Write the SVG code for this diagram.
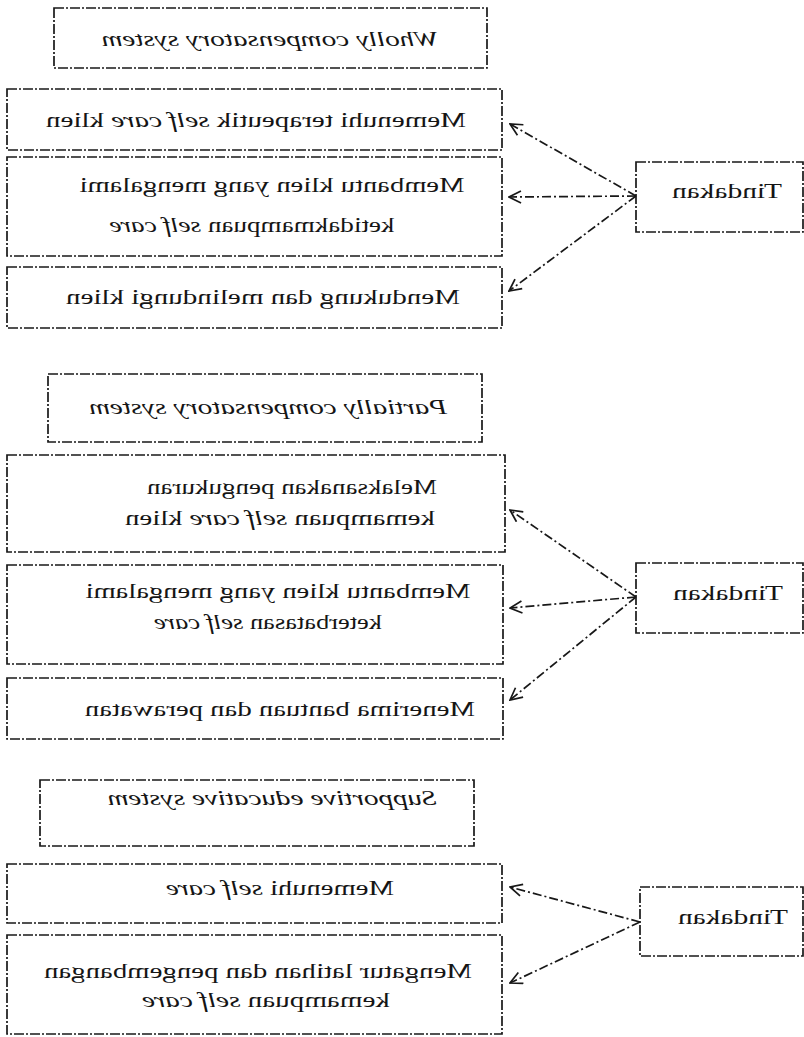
<svg xmlns="http://www.w3.org/2000/svg" width="804" height="1037" viewBox="0 0 804 1037">
  <style>
    .box { fill: none; stroke: #181818; stroke-width: 1.7; stroke-dasharray: 10 2 2 2; }
    .link { fill: none; stroke: #181818; stroke-width: 1.7; stroke-dasharray: 9 3 2 3; }
    .t { font-family: "Liberation Serif", "Times New Roman", serif; font-size: 20px; fill: #151515; text-anchor: middle; }
    .i { font-style: italic; }
  </style>
  <defs>
    <marker id="head" viewBox="0 0 14 14" refX="13" refY="7" markerWidth="14" markerHeight="14" markerUnits="userSpaceOnUse" orient="auto">
      <path d="M1,1 L13,7 L1,13" fill="none" stroke="#181818" stroke-width="1.7"/>
    </marker>
  </defs>
  <rect width="804" height="1037" fill="#ffffff"/>

  <!-- Connectors; all labels are drawn mirrored (scale(-1,1)) and stretched -->
  <g id="connectors">
    <line class="link" x1="636" y1="196" x2="510" y2="124" marker-end="url(#head)"/>
    <line class="link" x1="636" y1="196" x2="509" y2="197" marker-end="url(#head)"/>
    <line class="link" x1="636" y1="196" x2="509" y2="291" marker-end="url(#head)"/>

    <line class="link" x1="636" y1="597" x2="510" y2="510" marker-end="url(#head)"/>
    <line class="link" x1="636" y1="597" x2="510" y2="608" marker-end="url(#head)"/>
    <line class="link" x1="636" y1="597" x2="510" y2="700" marker-end="url(#head)"/>

    <line class="link" x1="640" y1="922" x2="510" y2="887" marker-end="url(#head)"/>
    <line class="link" x1="640" y1="922" x2="510" y2="983" marker-end="url(#head)"/>
  </g>

  <!-- Section 1: wholly compensatory -->
  <g id="wholly-title">
    <rect class="box" x="54" y="8" width="433" height="60"/>
    <text class="t i" transform="scale(-1,1)" x="-270" y="46" textLength="337" lengthAdjust="spacingAndGlyphs">Wholly compensatory system</text>
  </g>
  <g id="wholly-1">
    <rect class="box" x="7" y="89" width="495" height="61"/>
    <text class="t" transform="scale(-1,1)" x="-256" y="127" textLength="420" lengthAdjust="spacingAndGlyphs">Memenuhi terapeutik <tspan class="i">self care</tspan> klien</text>
  </g>
  <g id="wholly-2">
    <rect class="box" x="7" y="157" width="495" height="99"/>
    <text class="t" transform="scale(-1,1)" x="-272" y="192" textLength="385" lengthAdjust="spacingAndGlyphs">Membantu klien yang mengalami</text>
    <text class="t" transform="scale(-1,1)" x="-252" y="232" textLength="285" lengthAdjust="spacingAndGlyphs">ketidakmampuan <tspan class="i">self care</tspan></text>
  </g>
  <g id="wholly-3">
    <rect class="box" x="7" y="267" width="495" height="61"/>
    <text class="t" transform="scale(-1,1)" x="-263" y="304" textLength="394" lengthAdjust="spacingAndGlyphs">Mendukung dan melindungi klien</text>
  </g>
  <g id="tindakan-1">
    <rect class="box" x="636" y="162" width="167" height="70"/>
    <text class="t" transform="scale(-1,1)" x="-727" y="198" textLength="110" lengthAdjust="spacingAndGlyphs">Tindakan</text>
  </g>

  <!-- Section 2: partially compensatory -->
  <g id="partially-title">
    <rect class="box" x="48" y="374" width="434" height="68"/>
    <text class="t i" transform="scale(-1,1)" x="-268" y="414" textLength="358" lengthAdjust="spacingAndGlyphs">Partially compensatory system</text>
  </g>
  <g id="partially-1">
    <rect class="box" x="7" y="455" width="498" height="97"/>
    <text class="t" transform="scale(-1,1)" x="-292" y="494" textLength="290" lengthAdjust="spacingAndGlyphs">Melaksanakan pengukuran</text>
    <text class="t" transform="scale(-1,1)" x="-280" y="525" textLength="310" lengthAdjust="spacingAndGlyphs">kemampuan <tspan class="i">self care</tspan> klien</text>
  </g>
  <g id="partially-2">
    <rect class="box" x="7" y="565" width="496" height="99"/>
    <text class="t" transform="scale(-1,1)" x="-278" y="598" textLength="385" lengthAdjust="spacingAndGlyphs">Membantu klien yang mengalami</text>
    <text class="t" transform="scale(-1,1)" x="-268" y="629" textLength="228" lengthAdjust="spacingAndGlyphs">keterbatasan <tspan class="i">self care</tspan></text>
  </g>
  <g id="partially-3">
    <rect class="box" x="7" y="678" width="496" height="61"/>
    <text class="t" transform="scale(-1,1)" x="-280" y="716" textLength="390" lengthAdjust="spacingAndGlyphs">Menerima bantuan dan perawatan</text>
  </g>
  <g id="tindakan-2">
    <rect class="box" x="636" y="563" width="167" height="70"/>
    <text class="t" transform="scale(-1,1)" x="-728" y="600" textLength="110" lengthAdjust="spacingAndGlyphs">Tindakan</text>
  </g>

  <!-- Section 3: supportive educative -->
  <g id="supportive-title">
    <rect class="box" x="40" y="780" width="434" height="66"/>
    <text class="t i" transform="scale(-1,1)" x="-272" y="805" textLength="329" lengthAdjust="spacingAndGlyphs">Supportive educative  system</text>
  </g>
  <g id="supportive-1">
    <rect class="box" x="7" y="864" width="495" height="59"/>
    <text class="t" transform="scale(-1,1)" x="-280" y="895" textLength="228" lengthAdjust="spacingAndGlyphs">Memenuhi <tspan class="i">self care</tspan></text>
  </g>
  <g id="supportive-2">
    <rect class="box" x="7" y="935" width="495" height="99"/>
    <text class="t" transform="scale(-1,1)" x="-258" y="978" textLength="428" lengthAdjust="spacingAndGlyphs">Mengatur latihan dan pengembangan</text>
    <text class="t" transform="scale(-1,1)" x="-266" y="1007" textLength="248" lengthAdjust="spacingAndGlyphs">kemampuan <tspan class="i">self care</tspan></text>
  </g>
  <g id="tindakan-3">
    <rect class="box" x="640" y="887" width="163" height="69"/>
    <text class="t" transform="scale(-1,1)" x="-733" y="924" textLength="110" lengthAdjust="spacingAndGlyphs">Tindakan</text>
  </g>
</svg>
